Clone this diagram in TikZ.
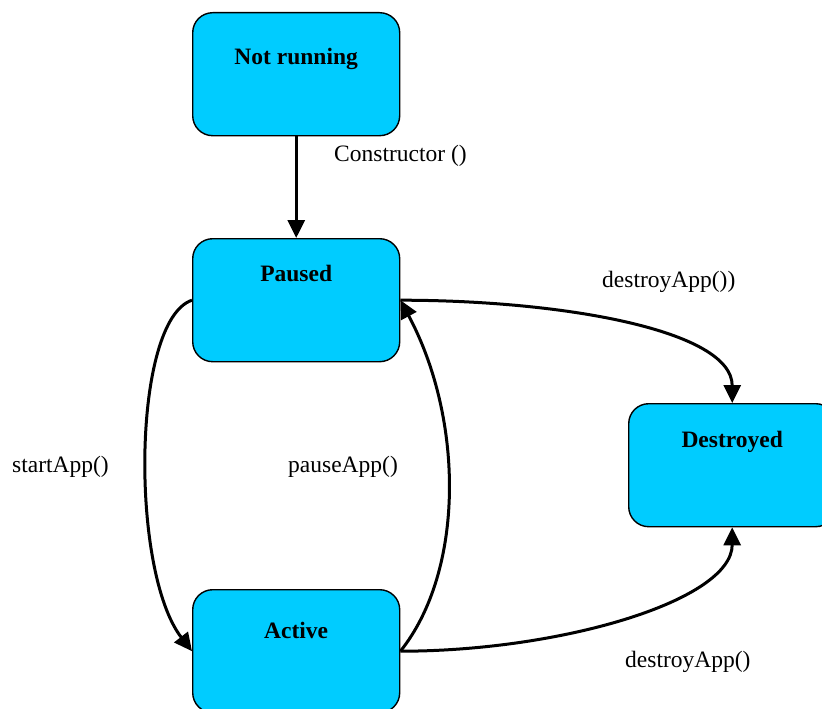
\documentclass[tikz,border=0pt]{standalone}
\usepackage{fontspec}
\setmainfont{Liberation Serif}
\usetikzlibrary{arrows.meta}
\definecolor{statefill}{RGB}{0,204,255}
\tikzset{
  state/.style={draw=black, line width=1.4pt, fill=statefill, rounded corners=20pt,
    minimum width=207pt, minimum height=123pt, anchor=north west, inner sep=0pt},
  statetext/.style={font=\fontsize{23.5}{28}\selectfont\bfseries, anchor=base, inner sep=0pt},
  trans/.style={line width=3pt, -{Triangle[length=18pt,width=17pt]}},
  translabel/.style={font=\fontsize{23.5}{28}\selectfont, anchor=base west, inner sep=0pt}
}
\begin{document}
\begin{tikzpicture}[x=1pt,y=-1pt]
  \clip (0,0) rectangle (822,709);
  % states
  \node[state] (nr) at (192,12) {};
  \node[state] (pa) at (192,238) {};
  \node[state] (ac) at (192,589) {};
  \node[state] (de) at (628,403) {};
  \node[statetext] (nrt) at ([yshift=-52pt]nr.north) {Not running};
  \node[statetext] (pat) at ([yshift=-43pt]pa.north) {Paused};
  \node[statetext] (act) at ([yshift=-49pt]ac.north) {Active};
  \node[statetext] (det) at ([yshift=-44pt]de.north) {Destroyed};
  % transitions
  \draw[trans] (nr.south) -- (pa.north);
  \draw[trans] (pa.west) .. controls +(-60,20) and +(-62,-80) .. (ac.west);
  \draw[trans] (ac.east) .. controls +(64,-80) and +(64,120) .. (pa.east);
  \draw[trans] (pa.east) .. controls +(161,0) and +(0,-73) .. (de.north);
  \draw[trans] (ac.east) .. controls +(161,0) and +(0,73) .. (de.south);
  % transition labels
  \node[translabel] (l1) at (334,161) {Constructor ()};
  \node[translabel] (l2) at (12,472) {startApp()};
  \node[translabel] (l3) at (288,472) {pauseApp()};
  \node[translabel] (l4) at (602,287) {destroyApp())};
  \node[translabel] (l5) at (625,667) {destroyApp()};
\end{tikzpicture}
\end{document}
